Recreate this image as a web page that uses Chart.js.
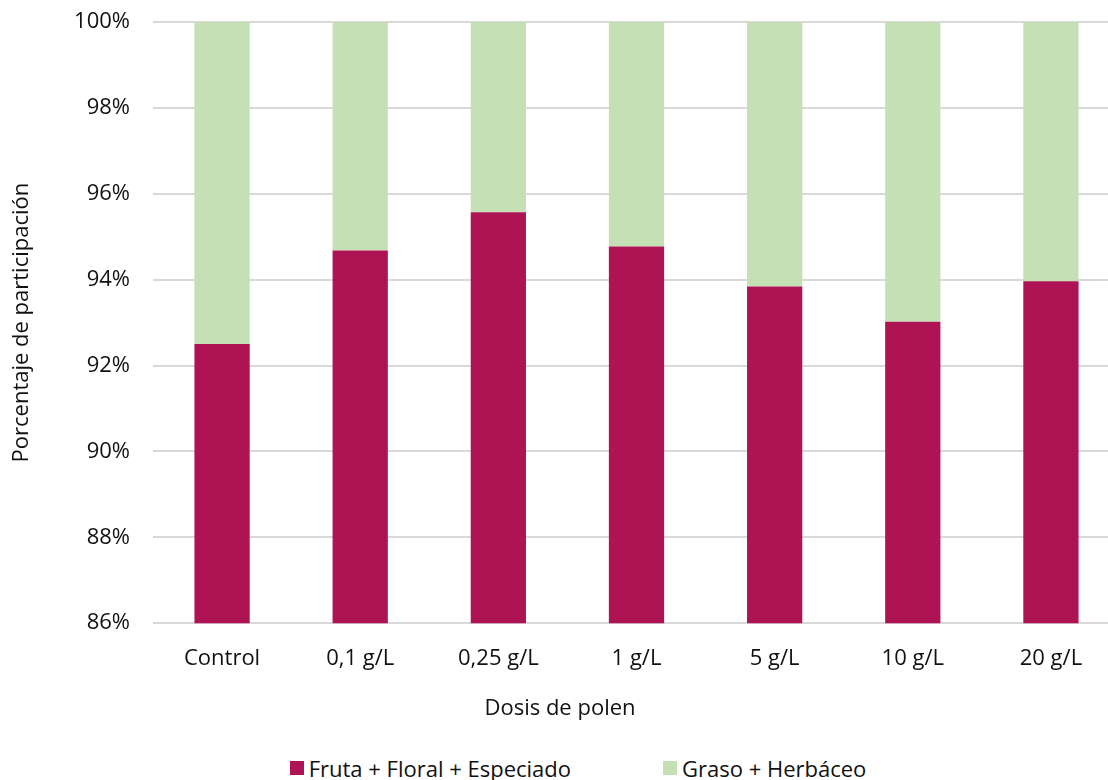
<!DOCTYPE html>
<html>
<head>
<meta charset="utf-8">
<title>Dosis de polen</title>
<script src="https://cdn.jsdelivr.net/npm/chart.js"></script>
<style>
    body { margin: 0; overflow: hidden; background: #fff; font-family: 'Open Sans', sans-serif; }
    #wrap { position: relative; width: 1156px; height: 780px; }
    #chart-box { position: absolute; left: 0; top: 0; width: 1156px; height: 745px; }
    #legend { position: absolute; left: 0; top: 755px; width: 1156px; display: flex; justify-content: center; gap: 92px; font-size: 22px; line-height: 26px; color: #111; }
    #legend span.item { display: flex; align-items: center; }
    #legend span.swatch { display: inline-block; width: 14px; height: 14px; margin-right: 5px; }
</style>
</head>
<body>
<div id="wrap">
    <div id="chart-box"><canvas id="polen-bar-chart"></canvas></div>
    <div id="legend"></div>
</div>
<script>
var dosis = ["Control", "0,1 g/L", "0,25 g/L", "1 g/L", "5 g/L", "10 g/L", "20 g/L"];
var frutaFloral = [92.5, 94.68, 95.57, 94.77, 93.84, 93.02, 93.96];
var grasoHerbaceo = [7.5, 5.32, 4.43, 5.23, 6.16, 6.98, 6.04];
var seriesNames = ["Fruta + Floral + Especiado", "Graso + Herbáceo"];
var seriesColors = ["#AE1454", "#C5E0B4"];

Chart.defaults.font.family = "'Open Sans', sans-serif";
Chart.defaults.font.size = 22;
Chart.defaults.color = "#111";

var chartData = {
    labels: dosis,
    datasets: [{
        label: seriesNames[0],
        data: frutaFloral,
        backgroundColor: seriesColors[0]
    }, {
        label: seriesNames[1],
        data: grasoHerbaceo,
        backgroundColor: seriesColors[1]
    }]
};

// Chart Options
var chartOptions = {
    responsive: true,
    maintainAspectRatio: false,
    animation: false,
    layout: { padding: { top: 22, right: 36, bottom: 0, left: 0 } },
    datasets: { bar: { categoryPercentage: 1, barPercentage: 0.4 } },
    plugins: {
        legend: { display: false },
        tooltip: { enabled: false },
        // x axis title drawn as a bottom title so it centres on the whole canvas
        title: {
            display: true,
            text: "Dosis de polen",
            position: "bottom",
            weight: 500,
            font: { size: 22, weight: "normal" },
            padding: { top: 10, bottom: 23 }
        }
    },
    scales: {
        x: {
            stacked: true,
            grid: { display: false },
            border: { display: false },
            ticks: { padding: 14, maxRotation: 0 }
        },
        y: {
            stacked: true,
            min: 86,
            max: 100,
            ticks: {
                stepSize: 2,
                padding: 0,
                callback: function(value) { return value + "%"; }
            },
            // invisible tick marks keep the labels away from the plot
            grid: { color: "#D9D9D9", lineWidth: 2, drawTicks: true, tickLength: 23, tickColor: "rgba(0,0,0,0)" },
            border: { display: false },
            title: {
                display: true,
                text: "Porcentaje de participación",
                font: { size: 22 },
                padding: { top: 9, bottom: 0 }
            },
            afterFit: function(scale) { scale.width = 153; }
        }
    }
};

var ctx = document.getElementById("polen-bar-chart");
var polenChart = new Chart(ctx, { type: "bar", data: chartData, options: chartOptions });

// legend below the canvas, built from the datasets
var legendBox = document.getElementById("legend");
polenChart.data.datasets.forEach(function(ds) {
    var item = document.createElement("span");
    item.className = "item";
    var swatch = document.createElement("span");
    swatch.className = "swatch";
    swatch.style.background = ds.backgroundColor;
    item.appendChild(swatch);
    item.appendChild(document.createTextNode(ds.label));
    legendBox.appendChild(item);
});
</script>
</body>
</html>
